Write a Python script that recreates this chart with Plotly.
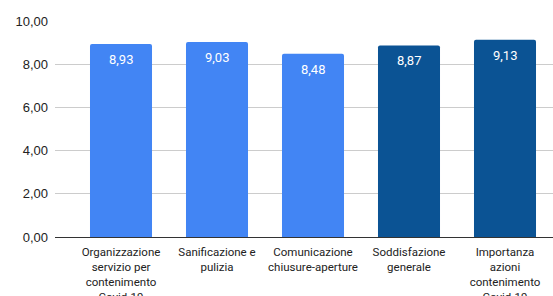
import plotly.graph_objects as go

categories = [
    "Organizzazione<br>servizio per<br>contenimento<br>Covid-19",
    "Sanificazione e<br>pulizia",
    "Comunicazione<br>chiusure-aperture",
    "Soddisfazione<br>generale",
    "Importanza<br>azioni<br>contenimento<br>Covid-19",
]
values = [8.93, 9.03, 8.48, 8.87, 9.13]
value_labels = ["8,93", "9,03", "8,48", "8,87", "9,13"]
colors = ["#4285f4", "#4285f4", "#4285f4", "#0b5394", "#0b5394"]
y_ticks = [0, 2, 4, 6, 8, 10]

xs = list(range(len(categories)))

fig = go.Figure(
    go.Bar(
        x=xs,
        y=values,
        marker=dict(color=colors, line=dict(width=0)),
        width=0.646,
        hoverinfo="skip",
    )
)

for x, v, lab in zip(xs, values, value_labels):
    fig.add_annotation(
        x=x, y=v, text=lab, showarrow=False,
        yanchor="top", yshift=-6,
        font=dict(color="white", size=13, family="Roboto"),
    )

fig.update_layout(
    width=553,
    height=296,
    margin=dict(l=55, r=0, t=21, b=59),
    paper_bgcolor="white",
    plot_bgcolor="white",
    separators=",.",
    font=dict(family="Roboto", color="#222222"),
    showlegend=False,
    barcornerradius=2,
)
fig.update_xaxes(
    tickmode="array",
    tickvals=xs,
    ticktext=categories,
    range=[-0.6875, 4.5],
    tickfont=dict(size=11.5, color="#222222", family="Roboto"),
    showgrid=False,
    ticks="",
    showline=True,
    linecolor="#333333",
    linewidth=1,
    ticklabelstandoff=4,
    automargin=False,
)
fig.update_yaxes(
    range=[0, 10],
    tickvals=y_ticks,
    tickformat=".2f",
    tickfont=dict(size=13, color="#222222", family="Liberation Sans"),
    gridcolor="#cccccc",
    gridwidth=1,
    zeroline=False,
    ticks="",
    ticklabelstandoff=6,
    automargin=False,
)

fig.write_html(
    "out.html",
    config={"displayModeBar": False},
    post_script="document.body.style.margin='0';",
)
